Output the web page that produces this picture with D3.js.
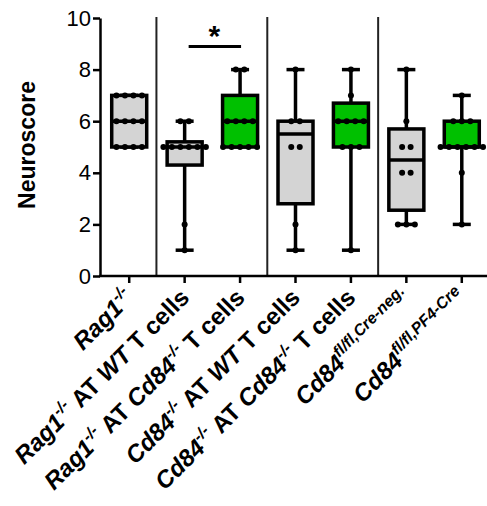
<!DOCTYPE html>
<html>
<head>
<meta charset="utf-8">
<script src="https://cdn.jsdelivr.net/npm/d3@7"></script>
<style>
    body { margin: 0; background: #fff; }
    text { font-family: "Liberation Sans", Arial, sans-serif; }
</style>
</head>
<body>
<div id="box-chart"></div>
<script>

// categories (plain names) and how each tick label is typeset
const categories = [
    "Rag1-/-",
    "Rag1-/- AT WT T cells",
    "Rag1-/- AT Cd84-/- T cells",
    "Cd84-/- AT WT T cells",
    "Cd84-/- AT Cd84-/- T cells",
    "Cd84fl/fl,Cre-neg.",
    "Cd84fl/fl,PF4-Cre"
];
const labelParts = [
    [["Rag1", "i"], ["-/-", "sup"]],
    [["Rag1", "i"], ["-/-", "sup"], [" AT ", "n"], ["WT", "i"], [" T cells", "n"]],
    [["Rag1", "i"], ["-/-", "sup"], [" AT ", "n"], ["Cd84", "i"], ["-/-", "sup"], [" T cells", "n"]],
    [["Cd84", "i"], ["-/-", "sup"], [" AT ", "n"], ["WT", "i"], [" T cells", "n"]],
    [["Cd84", "i"], ["-/-", "sup"], [" AT ", "n"], ["Cd84", "i"], ["-/-", "sup"], [" T cells", "n"]],
    [["Cd84", "i"], ["fl/fl,Cre-neg.", "sup"]],
    [["Cd84", "i"], ["fl/fl,PF4-Cre", "sup"]]
];
const genotype = ["WT", "WT", "KO", "WT", "KO", "WT", "KO"];

// box statistics
const boxMin    = [5, 1,   5, 1,   1,   2,    2];
const boxQ1     = [5, 4.3, 5, 2.8, 5,   2.55, 5];
const boxMedian = [6, 5,   6, 5.5, 6,   4.5,  5];
const boxQ3     = [7, 5.2, 7, 6,   6.7, 5.7,  6];
const boxMax    = [7, 6,   8, 8,   8,   8,    7];

// individual animals
const points = [
    [7, 7, 7, 7, 6, 6, 6, 6, 5, 5, 5, 5],
    [6, 6, 5, 5, 5, 5, 5, 5, 2, 1],
    [8, 8, 6, 6, 6, 6, 5, 5, 5, 5, 5],
    [8, 6, 6, 5, 5, 2, 1],
    [8, 7, 6, 6, 6, 6, 5, 5, 5, 1],
    [8, 6, 5, 5, 4, 4, 2, 2, 2],
    [7, 6, 6, 6, 5, 5, 5, 5, 5, 5, 4, 2]
];

const yTicks = [0, 2, 4, 6, 8, 10];

// significance bracket between groups 2 and 3
const signif = {from: 1, to: 2, value: 8.9, label: "*"};

// dimensions
var width = 487, height = 506;
var margin = {left: 100, top: 18, bottom: 276};

let svg = d3.select("#box-chart")
    .append("svg")
    .attr("width", width)
    .attr("height", height);

// scales
var xScale = d3.scaleBand()
    .domain(categories)
    .range([101.5, 489.5])
    .padding(0);
var yScale = d3.scaleLinear()
    .domain([0, 10])
    .range([margin.bottom, margin.top]);
var color = d3.scaleOrdinal()
    .domain(["WT", "KO"])
    .range(["#d4d4d4", "#00c000"]);

var cx = i => xScale(categories[i]) + xScale.bandwidth() / 2;
var boxW = 35, capW = 18;

// group dividers
[1, 3, 5].forEach(i => {
    svg.append("line")
        .attr("x1", xScale(categories[i]) - 0.5)
        .attr("x2", xScale(categories[i]) - 0.5)
        .attr("y1", margin.top - 1)
        .attr("y2", margin.bottom)
        .attr("stroke", "#222")
        .attr("stroke-width", 2);
});

// y axis
var yAxis = svg.append("g")
    .attr("transform", "translate(" + margin.left + ",0)")
    .call(d3.axisLeft(yScale).tickValues(yTicks).tickSize(7).tickSizeOuter(0));
yAxis.select(".domain").attr("stroke-width", 2.5);
yAxis.selectAll(".tick line").attr("stroke-width", 2.5);
yAxis.selectAll(".tick text")
    .attr("font-size", 22)
    .attr("x", -9)
    .attr("fill", "#000");

// x axis
var xAxis = svg.append("g")
    .attr("transform", "translate(0," + margin.bottom + ")")
    .call(d3.axisBottom(xScale).tickSize(7).tickSizeOuter(0).tickFormat(""));
xAxis.select(".domain")
    .attr("d", "M" + (margin.left - 1) + ",0H" + width)
    .attr("stroke-width", 2.5);
xAxis.selectAll(".tick line").attr("stroke-width", 2.5);

// x labels, rotated
categories.forEach((c, i) => {
    var t = svg.append("text")
        .attr("transform", "translate(" + (cx(i) + 6) + "," + (margin.bottom + 23) + ") rotate(-45)")
        .attr("text-anchor", "end")
        .attr("font-size", 24)
        .attr("font-weight", "bold");
    var shifted = false;
    labelParts[i].forEach(p => {
        var s = t.append("tspan").text(p[0]);
        if (p[1] == "i") s.attr("font-style", "italic");
        if (p[1] == "sup") {
            s.attr("font-size", 16).attr("font-style", "italic").attr("dy", -10);
            shifted = true;
        } else if (shifted) {
            s.attr("dy", 10);
            shifted = false;
        }
    });
});

// y label
svg.append("text")
    .text("Neuroscore")
    .attr("transform", "translate(35,145) rotate(-90)")
    .attr("text-anchor", "middle")
    .attr("font-size", 23)
    .attr("font-weight", "bold");

// boxes
categories.forEach((c, i) => {
    var g = svg.append("g");
    var x = cx(i);

    // whisker
    g.append("line")
        .attr("x1", x).attr("x2", x)
        .attr("y1", yScale(boxMin[i])).attr("y2", yScale(boxMax[i]))
        .attr("stroke", "#000").attr("stroke-width", 3.5);
    [boxMin[i], boxMax[i]].forEach(v => {
        g.append("line")
            .attr("x1", x - capW / 2).attr("x2", x + capW / 2)
            .attr("y1", yScale(v)).attr("y2", yScale(v))
            .attr("stroke", "#000").attr("stroke-width", 3.5);
    });

    // box
    g.append("rect")
        .attr("x", x - boxW / 2)
        .attr("y", yScale(boxQ3[i]))
        .attr("width", boxW)
        .attr("height", yScale(boxQ1[i]) - yScale(boxQ3[i]))
        .attr("fill", color(genotype[i]))
        .attr("stroke", "#000")
        .attr("stroke-width", 3.5);
    g.append("line")
        .attr("x1", x - boxW / 2).attr("x2", x + boxW / 2)
        .attr("y1", yScale(boxMedian[i])).attr("y2", yScale(boxMedian[i]))
        .attr("stroke", "#000").attr("stroke-width", 3.5);

    // dots, spread sideways when tied
    var counts = d3.rollup(points[i], v => v.length, d => d);
    var seen = new Map();
    g.selectAll("circle")
        .data(points[i])
        .enter()
        .append("circle")
        .attr("cx", d => {
            var k = seen.get(d) || 0;
            seen.set(d, k + 1);
            return x + (k - (counts.get(d) - 1) / 2) * 8.5;
        })
        .attr("cy", d => yScale(d))
        .attr("r", 3)
        .attr("fill", "#000");
});

// significance bar
svg.append("line")
    .attr("x1", cx(signif.from) + 4)
    .attr("x2", cx(signif.to) + 1)
    .attr("y1", yScale(signif.value))
    .attr("y2", yScale(signif.value))
    .attr("stroke", "#000")
    .attr("stroke-width", 3);
svg.append("text")
    .text(signif.label)
    .attr("x", (cx(signif.from) + cx(signif.to)) / 2 + 2)
    .attr("y", yScale(signif.value))
    .attr("text-anchor", "middle")
    .attr("font-size", 30)
    .attr("font-weight", "bold");

</script>
</body>
</html>
